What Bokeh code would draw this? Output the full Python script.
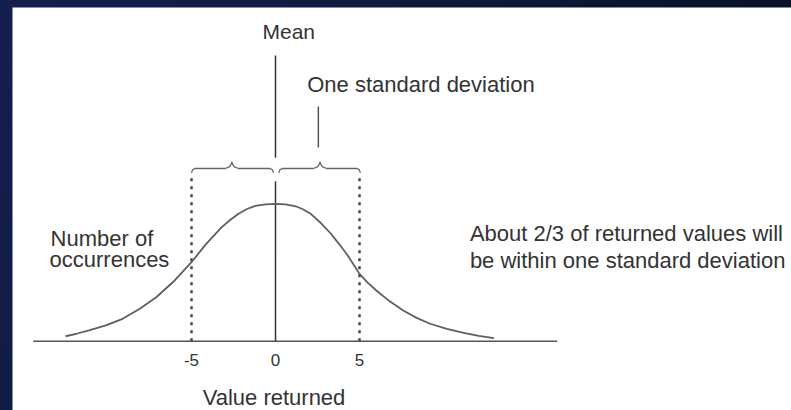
from bokeh.plotting import figure
from bokeh.models import Range1d
from bokeh.core.properties import value
from bokeh.embed import file_html
from bokeh.resources import INLINE

# Bell curve: value returned vs. relative number of occurrences (peak = 1)
curve_x = [-12.5, -11.8, -11.1, -10.1, -9.1, -8.1, -7.1, -6.0, -5.0, -4.2, -3.7,
           -3.2, -2.7, -2.2, -1.7, -1.2, -0.6, 0.0, 0.6, 1.2, 1.6, 2.1, 2.7, 3.3,
           3.8, 4.3, 5.0, 5.5, 6.0, 6.8, 7.6, 8.4, 9.2, 10.2, 11.2, 12.1, 13.0]
curve_y = [0.036, 0.056, 0.078, 0.115, 0.163, 0.235, 0.32, 0.442, 0.575, 0.697, 0.765,
           0.83, 0.882, 0.927, 0.962, 0.985, 0.996, 1.0, 0.996, 0.982, 0.962, 0.927, 0.86,
           0.782, 0.705, 0.624, 0.49, 0.425, 0.369, 0.29, 0.223, 0.17, 0.127, 0.09,
           0.061, 0.038, 0.022]

mean_value = 0
sd_bounds = [-5, 5]
tick_values = [-5, 0, 5]
tick_labels = ["-5", "0", "5"]

FONT = value("Liberation Sans")
TXT = "#333333"
INK = "#555555"

p = figure(width=791, height=410, output_backend="svg", toolbar_location=None,
           x_axis_location=None, y_axis_location=None,
           x_range=Range1d(-15.655, 30.714), y_range=Range1d(-0.5044, 2.4287),
           min_border_left=12, min_border_top=7, min_border_right=0, min_border_bottom=0)
p.grid.grid_line_color = None
p.outline_line_color = None
p.background_fill_color = "white"
p.border_fill_color = None
p.styles = {"background": "linear-gradient(120deg, #161e50 0%, #0c1a3a 45%, #050d1c 100%)"}

# horizontal value axis line
p.segment(x0=[-14.42], y0=[0], x1=[16.77], y1=[0], line_color=INK, line_width=1.6)

# mean marker (split around the brace junction)
p.segment(x0=[mean_value, mean_value], y0=[0, 1.336], x1=[mean_value, mean_value],
          y1=[1.165, 2.079], line_color="#333333", line_width=1.5)

# one-standard-deviation boundaries
p.segment(x0=sd_bounds, y0=[0, 0], x1=sd_bounds, y1=[1.2, 1.2],
          line_color="#444444", line_width=2.5, line_dash="3 5")

# the distribution curve
p.line(curve_x, curve_y, line_color="#5e5e5e", line_width=1.8)


def brace(x0, x1, tip, yb=1.257, ye=1.225, yt=1.305):
    xs = [x0, x0 + 0.06, x0 + 0.2, tip - 0.4, tip - 0.15, tip - 0.05, tip,
          tip + 0.05, tip + 0.15, tip + 0.4, x1 - 0.2, x1 - 0.06, x1]
    ys = [ye, ye + 0.022, yb, yb, yb + 0.012, yb + 0.03, yt,
          yb + 0.03, yb + 0.012, yb, yb, ye + 0.022, ye]
    return xs, ys


lx, ly = brace(sd_bounds[0], -0.12, -2.6)
rx, ry = brace(0.2, sd_bounds[1] + 0.05, 2.65)
p.multi_line([lx, rx], [ly, ry], line_color="#666666", line_width=1.3)

# pointer from the "one standard deviation" caption
p.segment(x0=[2.55], y0=[1.41], x1=[2.55], y1=[1.708], line_color=INK, line_width=1.5)

# tick labels under the axis line
p.text(x=tick_values, y=[-0.138] * 3, text=tick_labels, text_font=FONT,
       text_font_size="17px", text_color=TXT, text_align="center",
       text_baseline="alphabetic")

# captions
p.text(x=[0.79], y=[2.252], text=["Mean"], text_font=FONT, text_font_size="21px",
       text_color=TXT, text_align="center", text_baseline="alphabetic")
p.text(x=[1.887], y=[1.865], text=["One standard deviation"], text_font=FONT,
       text_font_size="22px", text_color=TXT, text_align="left", text_baseline="alphabetic")
p.text(x=[-13.39, -13.45], y=[0.747, 0.594], text=["Number of", "occurrences"],
       text_font=FONT, text_font_size="22px", text_color=TXT, text_align="left",
       text_baseline="alphabetic")
p.text(x=[11.57, 11.57], y=[0.781, 0.59],
       text=["About 2/3 of returned values will", "be within one standard deviation"],
       text_font=FONT, text_font_size="22px", text_color=TXT, text_align="left",
       text_baseline="alphabetic")
p.text(x=[-0.09], y=[-0.41], text=["Value returned"], text_font=FONT,
       text_font_size="22px", text_color=TXT, text_align="center", text_baseline="alphabetic")

open("out.html", "w").write(file_html(p, INLINE))
